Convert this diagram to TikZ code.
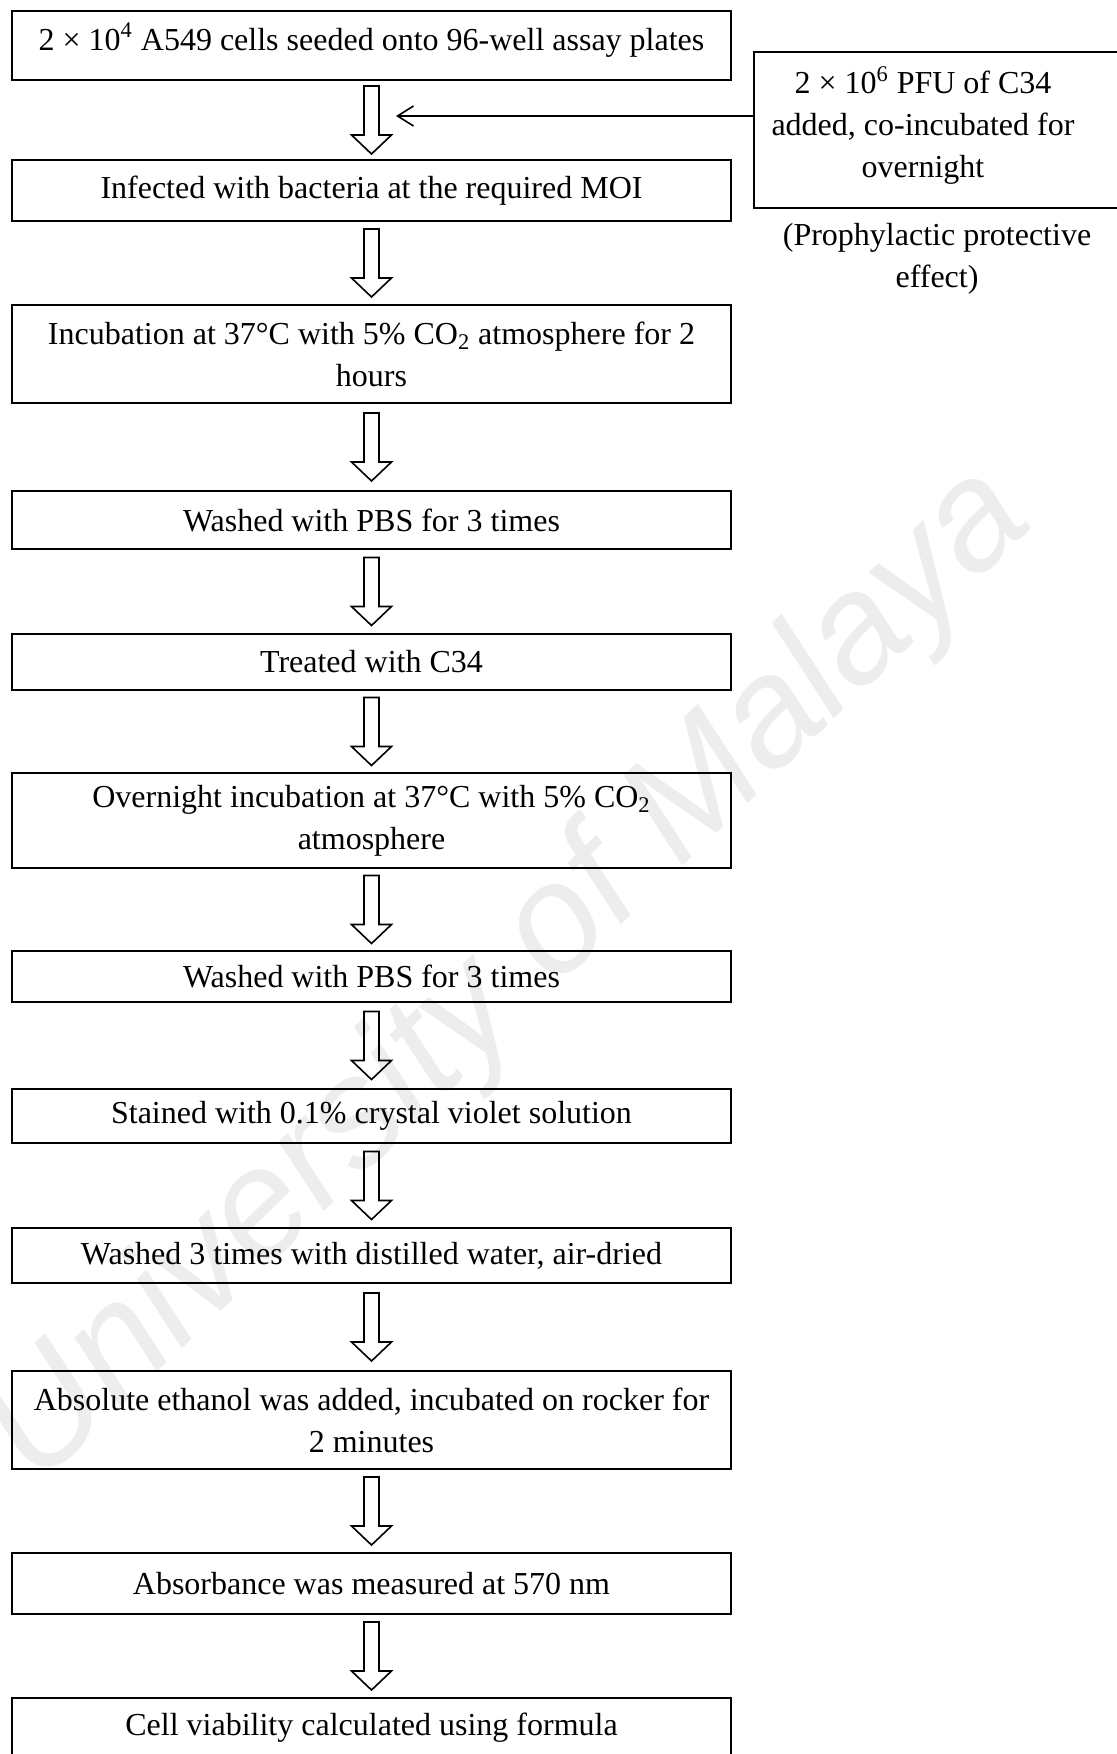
\documentclass[tikz,border=0pt]{standalone}
\usepackage{fontspec}
\setmainfont{Liberation Serif}
\newfontfamily\markfont{Liberation Sans}
\usetikzlibrary{arrows.meta,calc}

\begin{document}
\begin{tikzpicture}[x=0.5pt,y=-0.5pt,line width=.8pt,
  font=\fontsize{16}{21}\selectfont,
  stepbox/.style={draw,align=center,minimum width=359.5pt,inner sep=0pt},
  feed/.style={-{Straight Barb[length=8pt,width=10pt]}},
  hollowdown/.pic={\draw (-7.5,-34) -- (-7.5,15) -- (-20,15) -- (0,34) -- (20,15) -- (7.5,15) -- (7.5,-34) -- cycle;}]
\useasboundingbox (0,0) rectangle (1116,1754);
\node[rotate=44,text=black!7,font=\markfont\itshape\fontsize{77}{77}\selectfont] (mark) at (510,977) {University of Malaya};
\node[stepbox,minimum height=34.5pt,text height=11pt,text depth=6pt] (seed) at (371.5,45.5) {2 × 10\textsuperscript{4} A549 cells seeded onto 96-well assay plates};
\node[stepbox,minimum height=30.5pt] (infect) at (371.5,190.5) {Infected with bacteria at the required MOI};
\node[stepbox,minimum height=49pt] (incub) at (371.5,354) {Incubation at 37°C with 5\% CO\textsubscript{2} atmosphere for 2\\hours};
\node[stepbox,minimum height=29pt] (wash) at (371.5,520) {Washed with PBS for 3 times};
\node[stepbox,minimum height=28pt] (treat) at (371.5,662) {Treated with C34};
\node[stepbox,minimum height=47.5pt] (night) at (371.5,820.5) {Overnight incubation at 37°C with 5\% CO\textsubscript{2}\\atmosphere};
\node[stepbox,minimum height=25.5pt] (rewash) at (371.5,976.5) {Washed with PBS for 3 times};
\node[stepbox,minimum height=27pt] (stain) at (371.5,1116) {Stained with 0.1\% crystal violet solution};
\node[stepbox,minimum height=27.5pt] (rinse) at (371.5,1255.5) {Washed 3 times with distilled water, air-dried};
\node[stepbox,minimum height=49pt] (ethanol) at (371.5,1420) {Absolute ethanol was added, incubated on rocker for\\2 minutes};
\node[stepbox,minimum height=30.5pt] (absorb) at (371.5,1583.5) {Absorbance was measured at 570 nm};
\node[stepbox,minimum height=30pt] (viab) at (371.5,1728) {Cell viability calculated using formula};
\foreach \a/\b in {seed/infect,infect/incub,incub/wash,wash/treat,treat/night,night/rewash,rewash/stain,stain/rinse,rinse/ethanol,ethanol/absorb,absorb/viab}
  \pic at ($(\a.south)!.5!(\b.north)$) {hollowdown};
\node[align=center,minimum width=168pt,minimum height=77pt,inner sep=0pt,text depth=8pt] (phage) at (923,130) {2 × 10\textsuperscript{6} PFU of C34\\added, co-incubated for\\overnight};
\draw ($(phage.north east)+(60,0)$) -- (phage.north west) -- (phage.south west) -- ($(phage.south east)+(60,0)$);
\node[align=center] (note) at (937,258.5) {(Prophylactic protective\\effect)};
\coordinate (join) at (396,116);
\draw[feed] (phage.west |- join) -- (join);
\end{tikzpicture}
\end{document}
